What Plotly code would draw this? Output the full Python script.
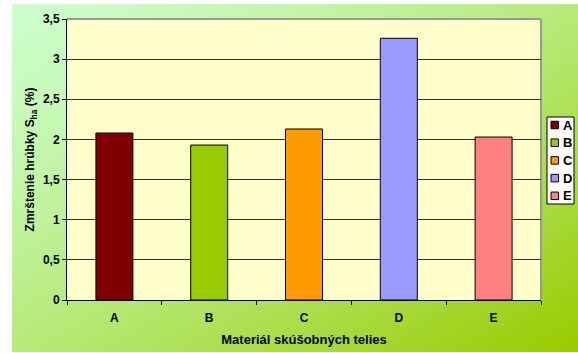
import base64, struct, zlib
import numpy as np
import plotly.graph_objects as go

categories = ["A", "B", "C", "D", "E"]
values = [2.08, 1.93, 2.13, 3.26, 2.03]
colors = ["#800000", "#99CC00", "#FF9900", "#9999FF", "#FF8080"]
y_ticks = [0, 0.5, 1, 1.5, 2, 2.5, 3, 3.5]
y_ticktext = ["0", "0,5", "1", "1,5", "2", "2,5", "3", "3,5"]

W, H = 578, 353
L, R, T, B = 67, 541, 19, 300

def gradient_png(w=120, h=80):
    c0 = np.array([204, 255, 204], float)
    c1 = np.array([153, 204, 0], float)
    xs = np.linspace(0, 1, w)[None, :]
    ys = np.linspace(0, 1, h)[:, None]
    t = (xs * 0.5 + ys * 0.5)
    t = np.clip(t, 0, 1) ** 1.3
    img = c0[None, None, :] * (1 - t[..., None]) + c1[None, None, :] * t[..., None]
    img = img.astype(np.uint8)
    raw = b"".join(b"\x00" + img[r].tobytes() for r in range(h))
    def chunk(tag, data):
        c = struct.pack(">I", len(data)) + tag + data
        return c + struct.pack(">I", zlib.crc32(tag + data) & 0xffffffff)
    png = b"\x89PNG\r\n\x1a\n" + chunk(b"IHDR", struct.pack(">IIBBBBB", w, h, 8, 2, 0, 0, 0))
    png += chunk(b"IDAT", zlib.compress(raw, 9)) + chunk(b"IEND", b"")
    return "data:image/png;base64," + base64.b64encode(png).decode()

NARROW = "Liberation Sans Narrow, Arial Narrow, Liberation Sans, Arial"
REG = "Liberation Sans, Arial"

fig = go.Figure()
for c, v, col in zip(categories, values, colors):
    fig.add_trace(go.Bar(x=[c], y=[v], name=c, marker=dict(color=col, line=dict(color="black", width=1)),
                         width=0.39, showlegend=False))

pw, ph = R - L, B - T
def px(x): return (x - L) / pw
def py(y): return (B - y) / ph

shapes = [
    dict(type="rect", xref="paper", yref="paper", x0=0, x1=1, y0=0, y1=1,
         fillcolor="#FFFFCC", line=dict(width=0), layer="below"),
    dict(type="line", xref="paper", yref="paper", x0=0, x1=1, y0=1, y1=1,
         line=dict(color="#999999", width=2), layer="below"),
    dict(type="line", xref="paper", yref="paper", x0=1, x1=1, y0=0, y1=1,
         line=dict(color="#999999", width=2), layer="below"),
    # legend box
    dict(type="rect", xref="paper", yref="paper", x0=px(547), x1=px(574), y0=py(204), y1=py(117),
         fillcolor="white", line=dict(color="black", width=1), layer="above"),
]
annotations = []
for i, (c, col) in enumerate(zip(categories, colors)):
    yc = 125 + i * 17.7
    shapes.append(dict(type="rect", xref="paper", yref="paper", x0=px(551), x1=px(558.5),
                       y0=py(yc + 3.75), y1=py(yc - 3.75), fillcolor=col,
                       line=dict(color="black", width=1), layer="above"))
    annotations.append(dict(text="<b>%s</b>" % c, xref="paper", yref="paper", x=px(561), y=py(yc),
                            xanchor="left", yanchor="middle", showarrow=False,
                            font=dict(family=NARROW, size=13, color="black")))

fig.update_layout(
    width=W, height=H,
    margin=dict(l=L, r=W - R, t=T, b=H - B, pad=0),
    paper_bgcolor="white", plot_bgcolor="#FFFFCC",
    barmode="overlay",
    font=dict(family=NARROW, size=12, color="black"),
    showlegend=False,
    images=[dict(source=gradient_png(), xref="paper", yref="paper",
                 x=px(12), y=py(4), sizex=(W - 12) / pw, sizey=(352 - 4) / ph,
                 xanchor="left", yanchor="top", sizing="stretch", layer="below")],
    xaxis=dict(type="category", categoryorder="array", categoryarray=categories,
               showline=True, linecolor="black", linewidth=1, ticks="outside", tickson="boundaries",
               ticklen=4, tickcolor="black", showgrid=False, ticklabelstandoff=7, automargin=False,
               tickfont=dict(family=NARROW, size=12, weight="bold"),
               title=dict(text="<b>Materiál skúšobných telies</b>",
                          font=dict(family=NARROW, size=13), standoff=10)),
    yaxis=dict(range=[0, 3.5], tickvals=y_ticks, ticktext=y_ticktext, automargin=False,
               showline=True, linecolor="black", linewidth=1, ticks="outside", ticklen=4, tickcolor="black",
               showgrid=True, gridcolor="#333333", gridwidth=1, zeroline=False,
               tickfont=dict(family=NARROW, size=12, weight="bold"),
               title=dict(text="<b>Zmrštenie hrúbky S<sub>ha</sub> (%)</b>",
                          font=dict(family=REG, size=12), standoff=5)),
    shapes=shapes,
    annotations=annotations,
)
fig.write_html("out.html")
